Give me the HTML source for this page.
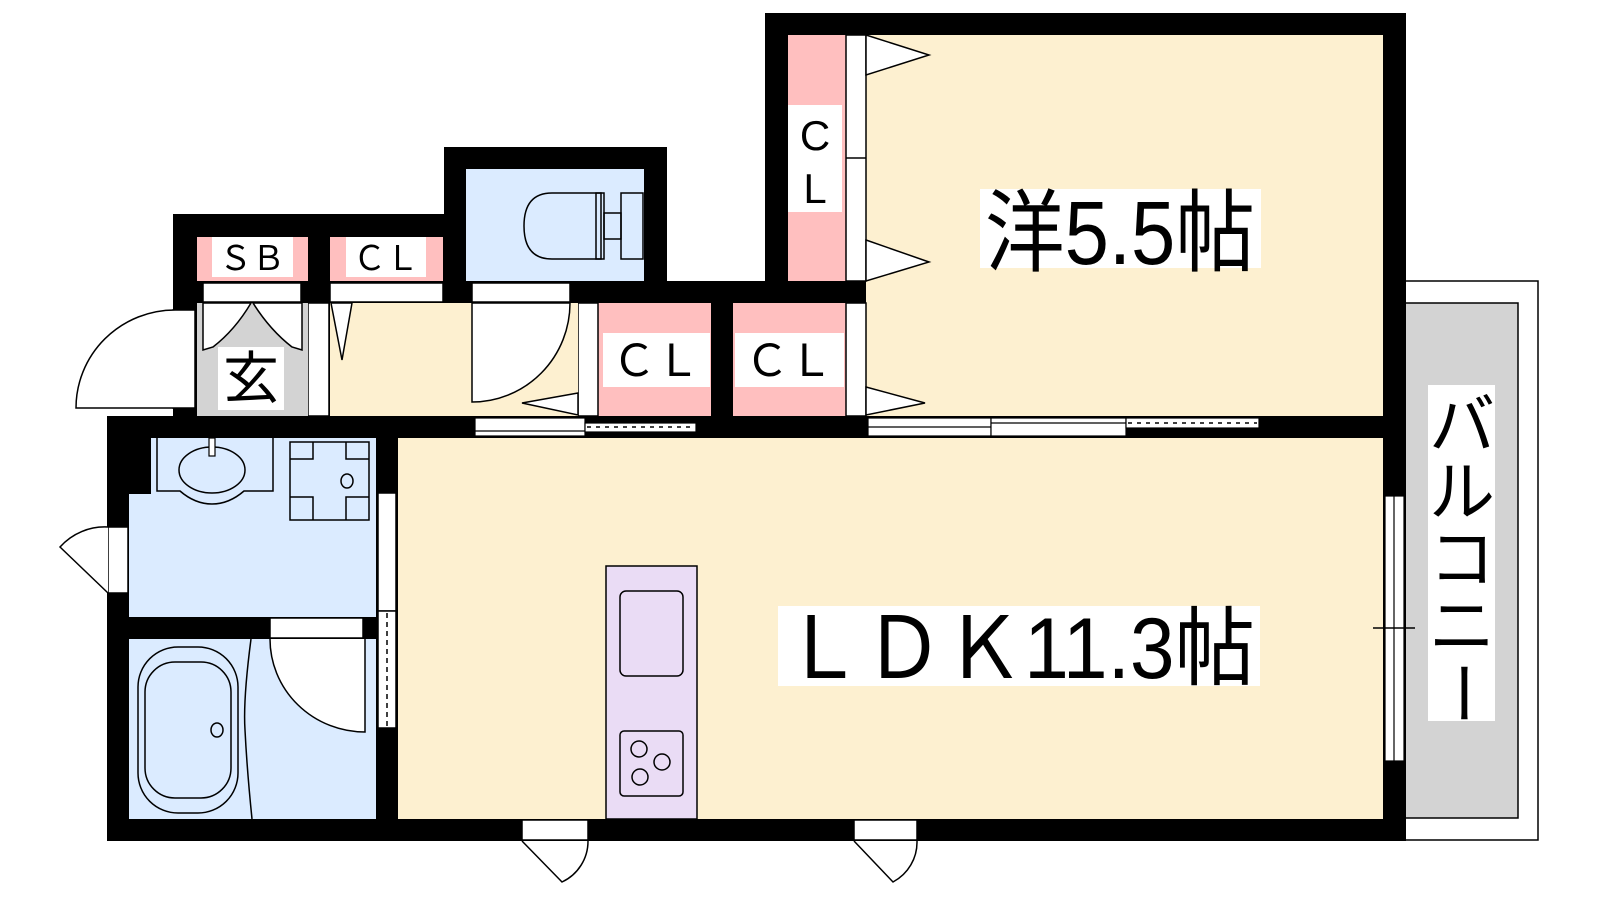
<!DOCTYPE html>
<html><head><meta charset="utf-8"><style>html,body{margin:0;padding:0;background:#fff;width:1600px;height:900px;overflow:hidden}svg{display:block}</style></head><body>
<svg width="1600" height="900" viewBox="0 0 1600 900" xmlns="http://www.w3.org/2000/svg" font-family="'Liberation Sans','Noto Sans CJK JP',sans-serif">
<rect width="1600" height="900" fill="#fff"/>
<rect x="1395" y="281" width="143" height="559" fill="#fff" stroke="#000" stroke-width="1.5"/>
<rect x="1400" y="303" width="118" height="515" fill="#d3d3d3" stroke="#000" stroke-width="1.5"/>
<rect x="765" y="13" width="641" height="425" fill="#000"/>
<rect x="107" y="416" width="1299" height="425" fill="#000"/>
<rect x="444" y="147" width="223" height="156" fill="#000"/>
<rect x="173" y="214" width="271" height="89" fill="#000"/>
<rect x="173" y="281" width="600" height="136" fill="#000"/>
<rect x="866" y="35" width="517" height="381" fill="#fdf0d0"/>
<rect x="788" y="35" width="58" height="246" fill="#ffbfbf"/>
<rect x="846" y="35" width="20" height="246" fill="#fff" stroke="#000" stroke-width="1.5"/>
<line x1="846" y1="158" x2="866" y2="158" stroke="#000" stroke-width="1.5"/>
<polygon points="866,35 929,55 866,75" fill="#fff" stroke="#000" stroke-width="1.5"/>
<polygon points="866,240 929,262 866,281" fill="#fff" stroke="#000" stroke-width="1.5"/>
<rect x="788" y="105" width="54" height="107" fill="#fff"/>
<text x="815" y="150" font-size="42" text-anchor="middle">C</text>
<text x="815" y="203" font-size="42" text-anchor="middle">L</text>
<rect x="733" y="303" width="113" height="113" fill="#ffbfbf"/>
<rect x="846" y="303" width="20" height="113" fill="#fff" stroke="#000" stroke-width="1.5"/>
<polygon points="866,387 925,403 866,415" fill="#fff" stroke="#000" stroke-width="1.5"/>
<rect x="735" y="333" width="109" height="54" fill="#fff"/>
<text x="789" y="376" font-size="44" text-anchor="middle" textLength="88" lengthAdjust="spacingAndGlyphs">ＣＬ</text>
<rect x="598" y="303" width="113" height="113" fill="#ffbfbf"/>
<rect x="578" y="303" width="20" height="113" fill="#fff" stroke="#000" stroke-width="1.5"/>
<rect x="603" y="333" width="107" height="54" fill="#fff"/>
<text x="656" y="376" font-size="44" text-anchor="middle" textLength="88" lengthAdjust="spacingAndGlyphs">ＣＬ</text>
<rect x="330" y="303" width="248" height="113" fill="#fdf0d0"/>
<path d="M472,303 L472,402 A98,99 0 0 0 570,303 Z" fill="#fff" stroke="#000" stroke-width="1.5"/>
<polygon points="578,393 522,403 578,415" fill="#fff" stroke="#000" stroke-width="1.5"/>
<polygon points="331,303 342,360 352,303" fill="#fff" stroke="#000" stroke-width="1.5"/>
<rect x="308" y="303" width="21" height="113" fill="#fff" stroke="#000" stroke-width="1.5"/>
<rect x="197" y="303" width="111" height="113" fill="#d3d3d3"/>
<path d="M203,303 L203,350 L213,347 Q235,330 251,303 Z M302,303 L302,350 L292,347 Q270,330 253,303 Z" fill="#fff" stroke="#000" stroke-width="1.5"/>
<rect x="218" y="347" width="66" height="63" fill="#fff"/>
<text x="251" y="398" font-size="56" text-anchor="middle">玄</text>
<rect x="173" y="310" width="22" height="98" fill="#fff" stroke="#000" stroke-width="1.5"/>
<path d="M175,310 A99,98 0 0 0 76,408 L175,408" fill="#fff" stroke="#000" stroke-width="1.5"/>
<rect x="197" y="237" width="111" height="44" fill="#ffbfbf"/>
<rect x="212" y="237" width="81" height="40" fill="#fff"/>
<text x="252" y="270" font-size="34" text-anchor="middle" textLength="66" lengthAdjust="spacingAndGlyphs">ＳＢ</text>
<rect x="330" y="237" width="113" height="44" fill="#ffbfbf"/>
<rect x="346" y="237" width="80" height="40" fill="#fff"/>
<text x="386" y="270" font-size="34" text-anchor="middle" textLength="66" lengthAdjust="spacingAndGlyphs">ＣＬ</text>
<rect x="203" y="283" width="98" height="19" fill="#fff" stroke="#000" stroke-width="1.5"/>
<rect x="330" y="283" width="113" height="19" fill="#fff" stroke="#000" stroke-width="1.5"/>
<rect x="472" y="283" width="98" height="19" fill="#fff" stroke="#000" stroke-width="1.5"/>
<rect x="466" y="169" width="178" height="112" fill="#dbebff"/>
<path d="M601,193 L552,193 Q524,193 524,226 Q524,259 552,259 L601,259 Z" fill="none" stroke="#000" stroke-width="1.5"/>
<rect x="596" y="193" width="8" height="66" fill="none" stroke="#000" stroke-width="1.5"/>
<rect x="621" y="193" width="22" height="66" fill="none" stroke="#000" stroke-width="1.5"/>
<rect x="604" y="213" width="17" height="26" fill="none" stroke="#000" stroke-width="1.5"/>
<rect x="129" y="438" width="247" height="179" fill="#dbebff"/>
<rect x="129" y="438" width="22" height="56" fill="#000"/>
<path d="M157,438 L157,491 L180,491 Q195,504 212,504 Q229,504 244,491 L273,491 L273,438" fill="none" stroke="#000" stroke-width="1.5"/>
<ellipse cx="212" cy="470" rx="33" ry="23" fill="none" stroke="#000" stroke-width="1.5"/>
<rect x="209" y="438" width="6" height="18" fill="#fff" stroke="#000" stroke-width="1.2"/>
<rect x="290" y="442" width="79" height="78" fill="none" stroke="#000" stroke-width="1.5"/>
<path d="M313,442 L313,459 L290,459 M346,442 L346,459 L369,459 M313,520 L313,497 L290,497 M346,520 L346,497 L369,497" fill="none" stroke="#000" stroke-width="1.5"/>
<ellipse cx="347" cy="481" rx="6" ry="7" fill="none" stroke="#000" stroke-width="1.5"/>
<rect x="129" y="617" width="245" height="22" fill="#000"/>
<rect x="270" y="618" width="93" height="20" fill="#fff" stroke="#000" stroke-width="1.5"/>
<rect x="129" y="639" width="247" height="180" fill="#dbebff"/>
<path d="M251,639 Q243,700 245,730 Q247,770 252,819" fill="none" stroke="#000" stroke-width="1.5"/>
<rect x="138" y="647" width="100" height="166" rx="40" fill="none" stroke="#000" stroke-width="1.5"/>
<rect x="145" y="662" width="86" height="136" rx="30" fill="none" stroke="#000" stroke-width="1.5"/>
<ellipse cx="217" cy="730" rx="6" ry="7" fill="none" stroke="#000" stroke-width="1.5"/>
<path d="M270,639 A95,93 0 0 0 365,732 L365,639" fill="#fff" stroke="#000" stroke-width="1.5"/>
<rect x="378" y="493" width="18" height="118" fill="#fff" stroke="#000" stroke-width="1.5"/>
<rect x="378" y="611" width="18" height="117" fill="#fff" stroke="#000" stroke-width="1.5"/>
<line x1="387" y1="613" x2="387" y2="726" stroke="#000" stroke-width="1.5" stroke-dasharray="5,4"/>
<rect x="108" y="527" width="20" height="66" fill="#fff" stroke="#000" stroke-width="1.5"/>
<path d="M108,527 A60,60 0 0 0 60,547 L108,593" fill="#fff" stroke="#000" stroke-width="1.5"/>
<rect x="398" y="438" width="985" height="381" fill="#fdf0d0"/>
<rect x="606" y="566" width="91" height="253" fill="#eadcf5" stroke="#000" stroke-width="1.5"/>
<rect x="620" y="591" width="63" height="85" rx="6" fill="none" stroke="#000" stroke-width="1.5"/>
<rect x="620" y="731" width="63" height="65" rx="4" fill="none" stroke="#000" stroke-width="1.5"/>
<g fill="none" stroke="#000" stroke-width="1.5"><circle cx="639" cy="749" r="8"/><circle cx="662" cy="762" r="8"/><circle cx="640" cy="777" r="8"/></g>
<rect x="475" y="418" width="110" height="18" fill="#fff" stroke="#000" stroke-width="1.2"/>
<line x1="475" y1="431" x2="585" y2="431" stroke="#000" stroke-width="1.2"/>
<rect x="585" y="423" width="111" height="9" fill="#fff" stroke="#000" stroke-width="1.2"/>
<line x1="587" y1="427" x2="694" y2="427" stroke="#000" stroke-width="1.5" stroke-dasharray="4,5"/>
<rect x="868" y="418" width="123" height="18" fill="#fff" stroke="#000" stroke-width="1.2"/>
<line x1="868" y1="427" x2="991" y2="427" stroke="#000" stroke-width="1.2"/>
<rect x="991" y="418" width="135" height="18" fill="#fff" stroke="#000" stroke-width="1.2"/>
<line x1="991" y1="423" x2="1126" y2="423" stroke="#000" stroke-width="1.2"/>
<rect x="1126" y="418" width="133" height="10" fill="#fff" stroke="#000" stroke-width="1.2"/>
<line x1="1128" y1="423" x2="1257" y2="423" stroke="#000" stroke-width="1.5" stroke-dasharray="4,5"/>
<rect x="1385" y="496" width="19" height="265" fill="#fff" stroke="#000" stroke-width="1.2"/>
<line x1="1394" y1="496" x2="1394" y2="761" stroke="#000" stroke-width="1.2"/>
<line x1="1373" y1="628" x2="1415" y2="628" stroke="#000" stroke-width="1.5"/>
<rect x="522" y="820" width="66" height="20" fill="#fff" stroke="#000" stroke-width="1.5"/>
<path d="M522,841 L562,882 A45,45 0 0 0 588,841" fill="#fff" stroke="#000" stroke-width="1.5"/>
<rect x="854" y="820" width="63" height="20" fill="#fff" stroke="#000" stroke-width="1.5"/>
<path d="M854,841 L893,882 A45,45 0 0 0 917,841" fill="#fff" stroke="#000" stroke-width="1.5"/>
<rect x="980" y="189" width="281" height="79" fill="#fff"/>
<text x="1120" y="264" font-size="90" text-anchor="middle" textLength="270" lengthAdjust="spacingAndGlyphs">洋5.5帖</text>
<rect x="778" y="606" width="482" height="80" fill="#fff"/>
<text x="1019" y="678" font-size="86" text-anchor="middle" textLength="472" lengthAdjust="spacingAndGlyphs">ＬＤＫ11.3帖</text>
<rect x="1428" y="385" width="67" height="336" fill="#fff"/>
<g font-size="66" text-anchor="middle">
<text x="1462" y="448">バ</text><text x="1462" y="515">ル</text><text x="1462" y="582">コ</text><text x="1462" y="649">ニ</text><text x="1462" y="716" transform="rotate(90 1462 693)">ー</text>
</g>
</svg>
</body></html>
